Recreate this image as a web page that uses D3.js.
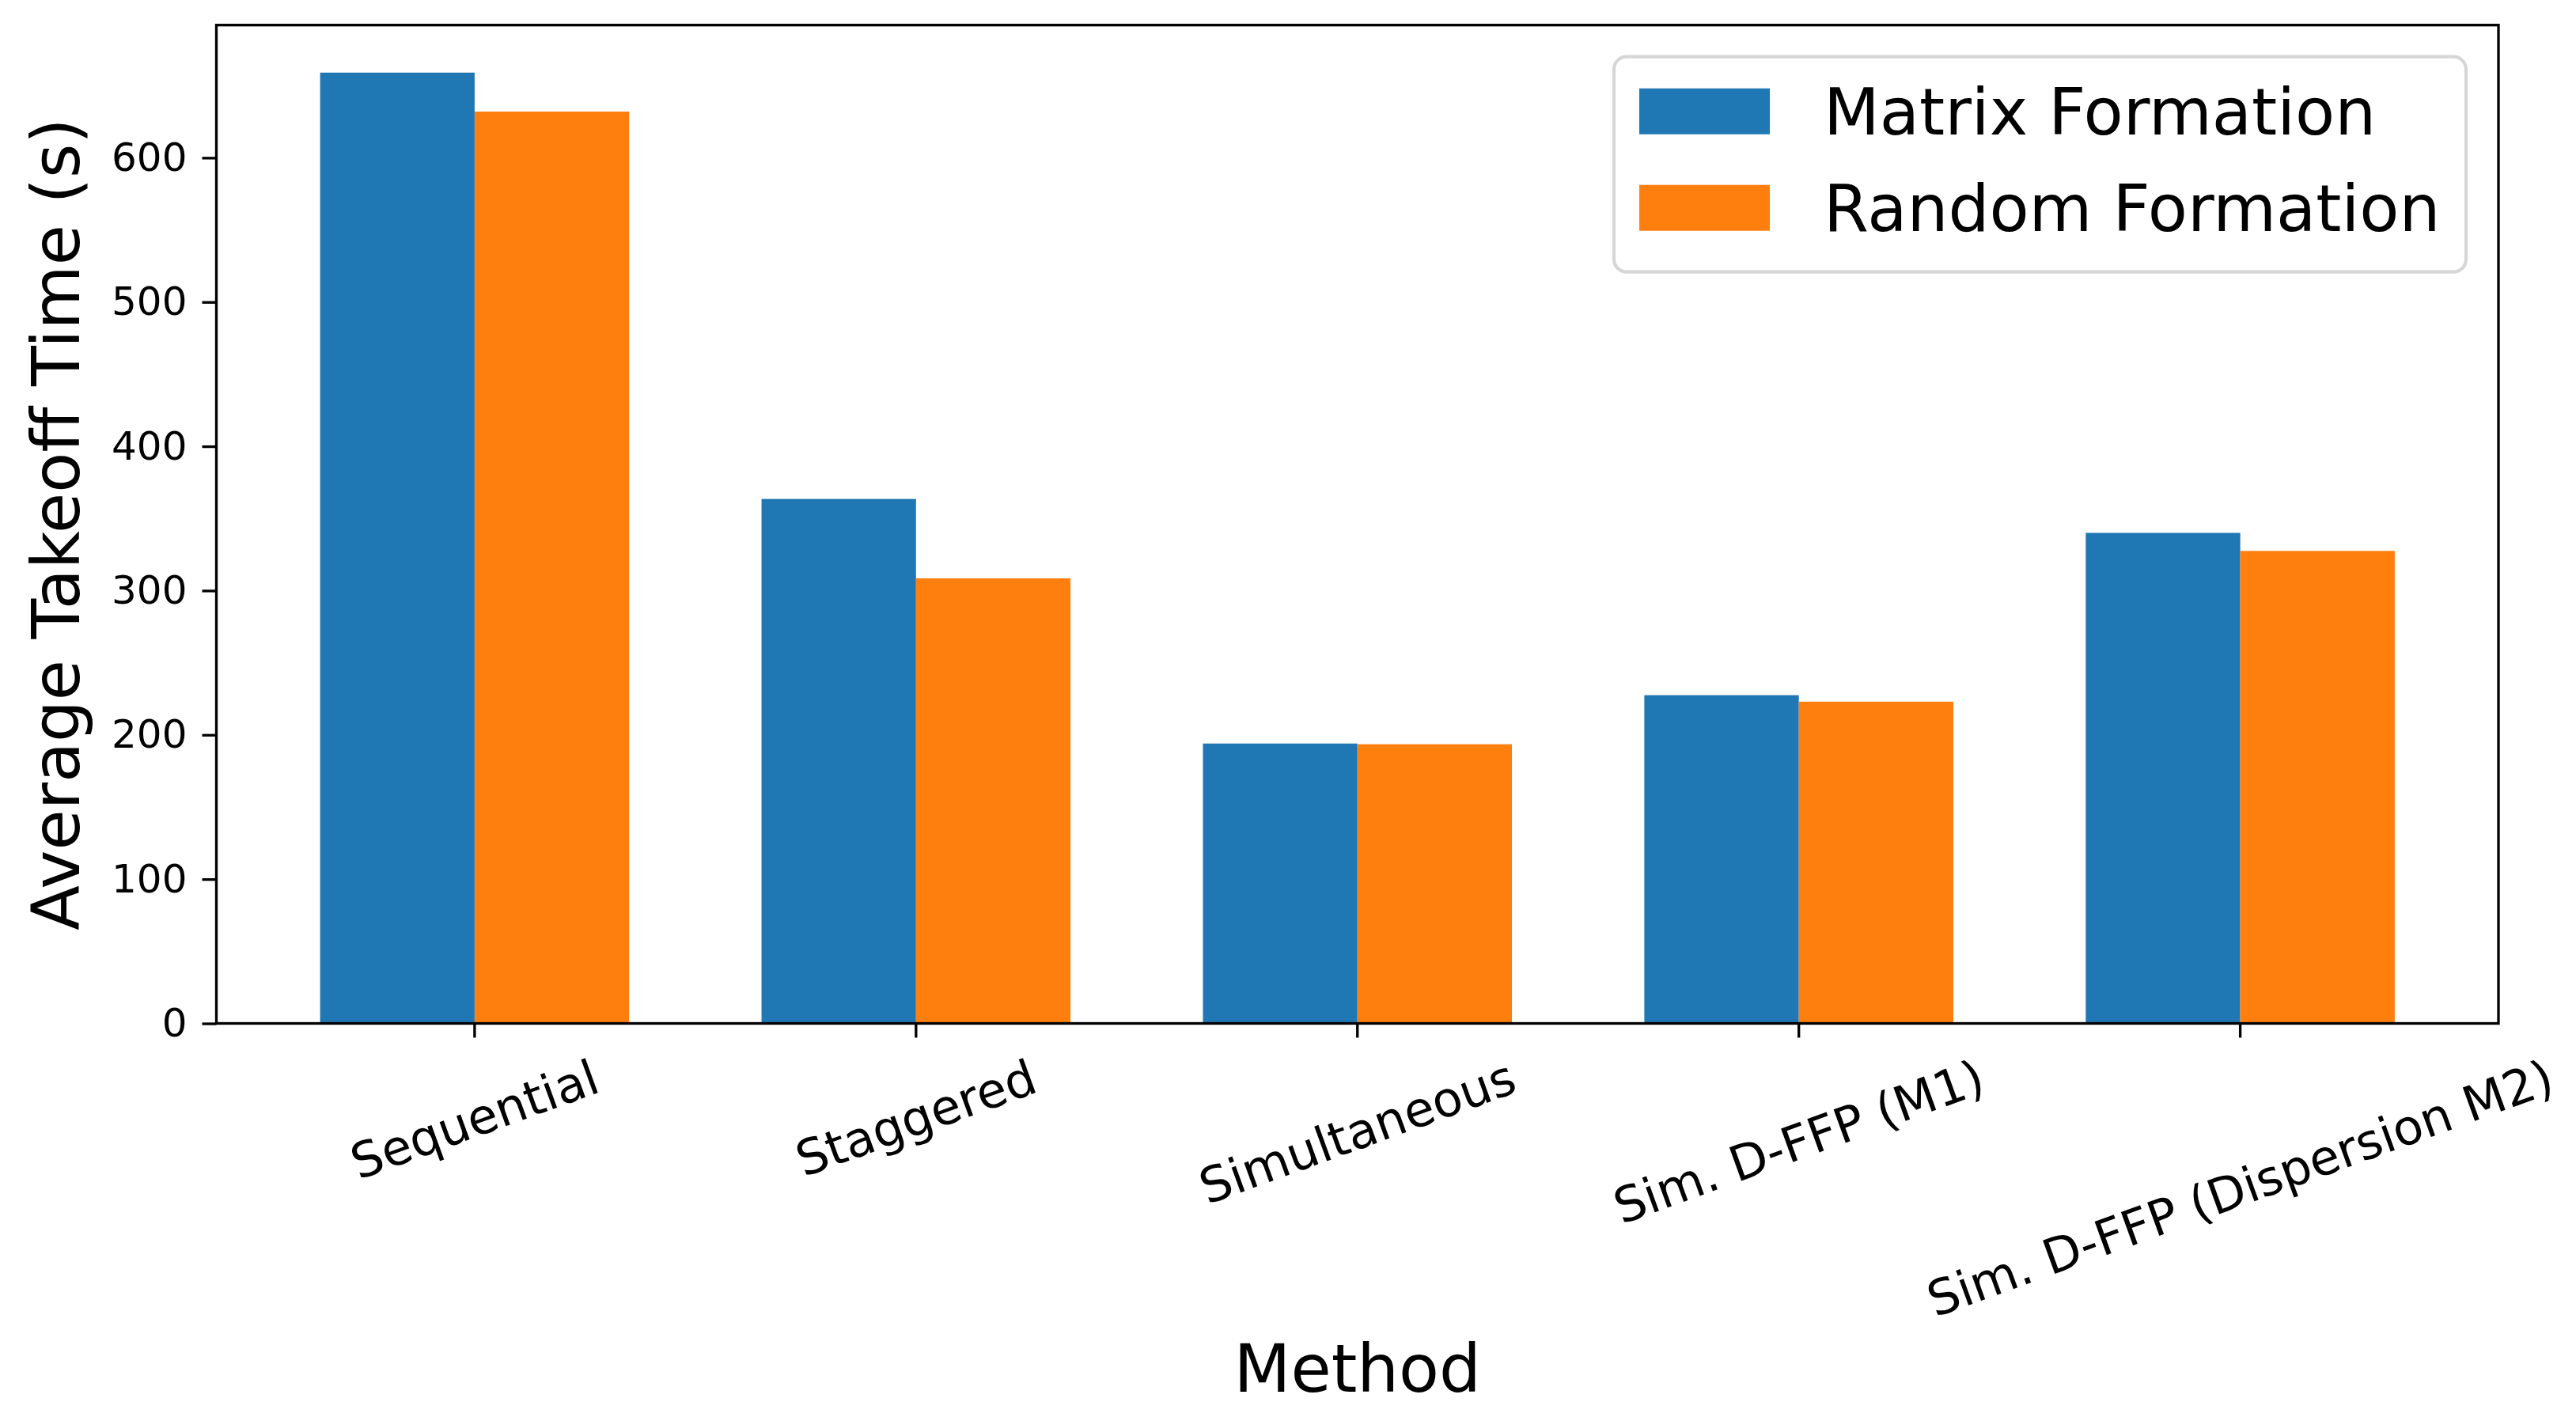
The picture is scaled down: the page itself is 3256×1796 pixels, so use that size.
<!DOCTYPE html>
<html>
<head>
<meta charset="utf-8">
<script src="https://cdn.jsdelivr.net/npm/d3@7"></script>
<style>
  html, body { margin: 0; padding: 0; background: #fff; }
  svg { display: block; font-family: "DejaVu Sans", sans-serif; }
</style>
</head>
<body>
<div id="chart"></div>
<script>
// data
var methods = ["Sequential", "Staggered", "Simultaneous", "Sim. D-FFP (M1)", "Sim. D-FFP (Dispersion M2)"];
var seriesNames = ["Matrix Formation", "Random Formation"];
var matrixValues = [659, 363.5, 194, 227.5, 340];
var randomValues = [632, 308.5, 193.5, 223, 327.5];
var yTicks = [0, 100, 200, 300, 400, 500, 600];
var COLORS = ["#1f77b4", "#ff7f0e"];

var width = 3256;
var height = 1796;

var margins = { top: 31.7, right: 98, bottom: 502.5, left: 273.5 };
var chartWidth = width - margins.left - margins.right;
var chartHeight = height - margins.top - margins.bottom;

var rows = methods.map((m, i) => ({
  method: m,
  values: [matrixValues[i], randomValues[i]]
}));

var svg = d3.select("#chart")
  .append("svg")
  .attr("width", width)
  .attr("height", height);

svg.append("rect")
  .attr("width", width)
  .attr("height", height)
  .attr("fill", "#fff");

var chartElement = svg.append("g")
  .attr("transform", `translate(${margins.left},${margins.top})`);

// scales, bar group = 2 x 0.35 wide, matplotlib style 5% margins
var xScale = d3.scaleBand()
  .domain(methods)
  .range([0, chartWidth])
  .paddingInner(0.3)
  .paddingOuter(0.235);

var xSub = d3.scaleBand()
  .domain(seriesNames)
  .range([0, xScale.bandwidth()])
  .padding(0);

var yMax = d3.max(matrixValues.concat(randomValues)) * 1.05;
var yScale = d3.scaleLinear()
  .domain([0, yMax])
  .range([chartHeight, 0]);

// bars
chartElement.append("g")
  .attr("class", "bars")
  .selectAll("g")
  .data(rows)
  .enter()
  .append("g")
  .attr("transform", d => `translate(${xScale(d.method)},0)`)
  .selectAll("rect")
  .data(d => d.values.map((v, i) => ({ name: seriesNames[i], value: v, i: i })))
  .enter()
  .append("rect")
  .attr("x", d => xSub(d.name))
  .attr("y", d => yScale(d.value))
  .attr("width", xSub.bandwidth())
  .attr("height", d => chartHeight - yScale(d.value))
  .attr("fill", d => COLORS[d.i]);

// y axis
var yAxis = d3.axisLeft(yScale)
  .tickValues(yTicks)
  .tickSize(18)
  .tickPadding(19)
  .tickFormat(d => d);

var yAxisG = chartElement.append("g")
  .attr("class", "y axis")
  .call(yAxis);
yAxisG.select(".domain").remove();
yAxisG.selectAll("line").attr("stroke", "#000").attr("stroke-width", 3.33);
yAxisG.selectAll("text")
  .attr("font-size", 50)
  .attr("font-family", "DejaVu Sans")
  .attr("fill", "#000");

// x axis
var xAxis = d3.axisBottom(xScale)
  .tickSize(18)
  .tickFormat("");

var xAxisG = chartElement.append("g")
  .attr("class", "x axis")
  .attr("transform", `translate(0,${chartHeight})`)
  .call(xAxis);
xAxisG.select(".domain").remove();
xAxisG.selectAll("line").attr("stroke", "#000").attr("stroke-width", 3.33);

// rotated tick labels, bbox top sits below the tick
var xLabelSize = 61.5;
var rot = 20 * Math.PI / 180;
var labelTop = chartHeight + 32;
var xLabels = chartElement.append("g").attr("class", "x-labels");
methods.forEach(m => {
  var g = xLabels.append("g");
  var t = g.append("text")
    .attr("text-anchor", "middle")
    .attr("font-size", xLabelSize)
    .attr("y", 0.346 * xLabelSize)
    .text(m);
  var w = t.node().getComputedTextLength();
  var h = 1.164 * xLabelSize;
  var cy = labelTop + (w / 2) * Math.sin(rot) + (h / 2) * Math.cos(rot);
  var cx = xScale(m) + xScale.bandwidth() / 2;
  g.attr("transform", `translate(${cx},${cy}) rotate(-20)`);
});

// frame
chartElement.append("rect")
  .attr("class", "frame")
  .attr("x", 0)
  .attr("y", 0)
  .attr("width", chartWidth)
  .attr("height", chartHeight)
  .attr("fill", "none")
  .attr("stroke", "#000")
  .attr("stroke-width", 3.33);

// axis titles
svg.append("text")
  .attr("class", "x-title")
  .attr("x", margins.left + chartWidth / 2)
  .attr("y", 1759)
  .attr("text-anchor", "middle")
  .attr("font-size", 83.3)
  .text("Method");

svg.append("text")
  .attr("class", "y-title")
  .attr("transform", `translate(100,${margins.top + chartHeight / 2}) rotate(-90)`)
  .attr("text-anchor", "middle")
  .attr("font-size", 83.3)
  .text("Average Takeoff Time (s)");

// legend, upper right
var legendW = 1077;
var legendH = 272;
var legend = chartElement.append("g")
  .attr("class", "legend")
  .attr("transform", `translate(${chartWidth - 41 - legendW},40)`);

legend.append("rect")
  .attr("width", legendW)
  .attr("height", legendH)
  .attr("rx", 16)
  .attr("ry", 16)
  .attr("fill", "#fff")
  .attr("fill-opacity", 0.8)
  .attr("stroke", "#d6d6d6")
  .attr("stroke-width", 4.2);

var legendItems = legend.selectAll(".item")
  .data(seriesNames)
  .enter()
  .append("g")
  .attr("class", "item")
  .attr("transform", (d, i) => `translate(0,${98 + i * 122})`);

legendItems.append("rect")
  .attr("x", 32)
  .attr("y", -58)
  .attr("width", 165)
  .attr("height", 58)
  .attr("fill", (d, i) => COLORS[i]);

legendItems.append("text")
  .attr("x", 265)
  .attr("y", 0)
  .attr("font-size", 82)
  .text(d => d);
</script>
</body>
</html>
